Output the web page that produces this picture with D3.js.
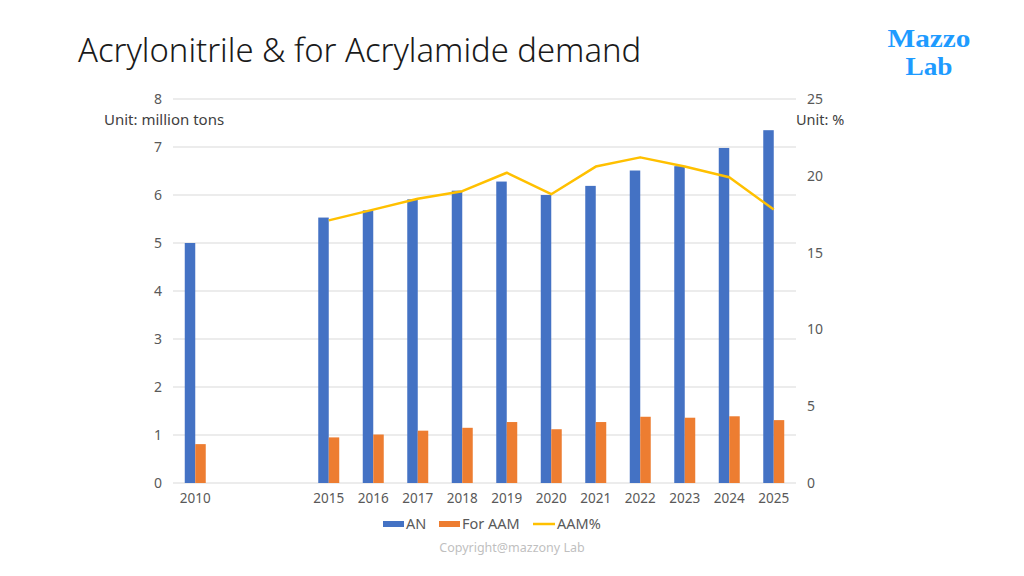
<!DOCTYPE html>
<html>
<head>
<meta charset="utf-8">
<script src="https://cdn.jsdelivr.net/npm/d3@7"></script>
<style>
  body { margin: 0; background: #fff; }
  svg { display: block; }
</style>
</head>
<body>
<svg id="chart"></svg>
<script>
// categories (empty strings keep the gap between 2010 and 2015)
const years = ['2010', '', ' ', '2015', '2016', '2017', '2018', '2019', '2020', '2021', '2022', '2023', '2024', '2025'];
const an = [5.0, null, null, 5.53, 5.68, 5.91, 6.09, 6.28, 6.0, 6.19, 6.51, 6.6, 6.98, 7.35];
const forAam = [0.81, null, null, 0.95, 1.01, 1.09, 1.15, 1.27, 1.12, 1.27, 1.38, 1.36, 1.39, 1.31];
const aamPct = [null, null, null, 17.1, 17.8, 18.5, 19.0, 20.2, 18.8, 20.6, 21.2, 20.6, 19.9, 17.8];
const leftTicks = [0, 1, 2, 3, 4, 5, 6, 7, 8];
const rightTicks = [0, 5, 10, 15, 20, 25];

const width = 1024, height = 576;
const margin = {top: 99, right: 228, bottom: 93, left: 173};
const innerW = width - margin.left - margin.right;
const innerH = height - margin.top - margin.bottom;
const font = '"Noto Sans", sans-serif';
const textColor = '#595959';

const svg = d3.select('#chart')
    .attr('width', width)
    .attr('height', height);

// title
svg.append('text')
    .attr('x', 78)
    .attr('y', 62)
    .style('font-family', font)
    .style('font-size', '32.8px')
    .style('font-weight', 300)
    .attr('fill', '#1a1a1a')
    .text('Acrylonitrile & for Acrylamide demand');

// logo
const logo = svg.append('g')
    .style('font-family', '"Liberation Serif", serif')
    .style('font-weight', 'bold')
    .style('font-size', '25px')
    .attr('fill', '#1E9BFF')
    .attr('text-anchor', 'middle');
logo.append('text').attr('x', 929).attr('y', 47)
    .attr('textLength', 83).attr('lengthAdjust', 'spacingAndGlyphs').text('Mazzo');
logo.append('text').attr('x', 929).attr('y', 75)
    .attr('textLength', 47).attr('lengthAdjust', 'spacingAndGlyphs').text('Lab');

const chart = svg.append('g')
    .attr('transform', `translate(${margin.left},${margin.top})`);

const x0 = d3.scaleBand()
    .domain(years)
    .range([0, innerW])
    .padding(0);

const series = ['AN', 'For AAM'];
const x1 = d3.scaleBand()
    .domain(series)
    .range([0, x0.bandwidth()])
    .paddingInner(0)
    .paddingOuter(1.12);

const yL = d3.scaleLinear().domain([0, 8]).range([innerH, 0]);
const yR = d3.scaleLinear().domain([0, 25]).range([innerH, 0]);

// gridlines
chart.append('g')
    .selectAll('line')
    .data(leftTicks)
    .join('line')
    .attr('x1', 0)
    .attr('x2', innerW)
    .attr('y1', d => yL(d))
    .attr('y2', d => yL(d))
    .attr('stroke', '#d9d9d9')
    .attr('stroke-width', 1);

// left axis
const axL = chart.append('g')
    .call(d3.axisLeft(yL).tickValues(leftTicks).tickSize(0).tickPadding(11));
axL.select('.domain').remove();
axL.selectAll('text')
    .style('font-family', font)
    .style('font-size', '14px')
    .attr('fill', textColor);

// right axis
const axR = chart.append('g')
    .attr('transform', `translate(${innerW},0)`)
    .call(d3.axisRight(yR).tickValues(rightTicks).tickSize(0).tickPadding(11));
axR.select('.domain').remove();
axR.selectAll('text')
    .style('font-family', font)
    .style('font-size', '14px')
    .attr('fill', textColor);

// bottom axis
const axB = chart.append('g')
    .attr('transform', `translate(0,${innerH})`)
    .call(d3.axisBottom(x0).tickSize(0).tickPadding(10));
axB.select('.domain').remove();
axB.selectAll('text')
    .style('font-family', font)
    .style('font-size', '13.5px')
    .attr('fill', textColor);

// unit labels
svg.append('text')
    .attr('x', 104)
    .attr('y', 125)
    .style('font-family', font)
    .style('font-size', '15px')
    .attr('fill', '#404040')
    .text('Unit: million tons');
svg.append('text')
    .attr('x', 796)
    .attr('y', 125)
    .style('font-family', font)
    .style('font-size', '14.5px')
    .attr('fill', '#404040')
    .text('Unit: %');

// bars
const colors = {'AN': '#4472C4', 'For AAM': '#ED7D31'};
const barData = years.map((y, i) => ({year: y, vals: [
    {key: 'AN', v: an[i]},
    {key: 'For AAM', v: forAam[i]}
]}));

chart.append('g')
    .selectAll('g')
    .data(barData)
    .join('g')
    .attr('transform', d => `translate(${x0(d.year)},0)`)
    .selectAll('rect')
    .data(d => d.vals.filter(e => e.v != null))
    .join('rect')
    .attr('x', d => x1(d.key))
    .attr('width', x1.bandwidth())
    .attr('y', d => yL(d.v))
    .attr('height', d => innerH - yL(d.v))
    .attr('fill', d => colors[d.key]);

// AAM% line
const lineData = years.map((y, i) => ({year: y, v: aamPct[i]})).filter(d => d.v != null);
const line = d3.line()
    .x(d => x0(d.year) + x0.bandwidth() / 2)
    .y(d => yR(d.v));
chart.append('path')
    .datum(lineData)
    .attr('d', line)
    .attr('fill', 'none')
    .attr('stroke', '#FFC000')
    .attr('stroke-width', 2.5)
    .attr('stroke-linejoin', 'round');

// legend
const legend = svg.append('g')
    .style('font-family', font)
    .style('font-size', '14.5px')
    .attr('fill', textColor);
legend.append('rect').attr('x', 383).attr('y', 521).attr('width', 21).attr('height', 6).attr('fill', colors['AN']);
legend.append('text').attr('x', 406).attr('y', 529).text('AN');
legend.append('rect').attr('x', 439).attr('y', 521).attr('width', 21).attr('height', 6).attr('fill', colors['For AAM']);
legend.append('text').attr('x', 462).attr('y', 529).text('For AAM');
legend.append('line').attr('x1', 533).attr('x2', 555).attr('y1', 524).attr('y2', 524)
    .attr('stroke', '#FFC000').attr('stroke-width', 2.5);
legend.append('text').attr('x', 557).attr('y', 529).text('AAM%');

// copyright
svg.append('text')
    .attr('x', 512)
    .attr('y', 552)
    .attr('text-anchor', 'middle')
    .style('font-family', font)
    .style('font-size', '12.5px')
    .attr('fill', '#bfbfbf')
    .text('Copyright@mazzony Lab');
</script>
</body>
</html>
